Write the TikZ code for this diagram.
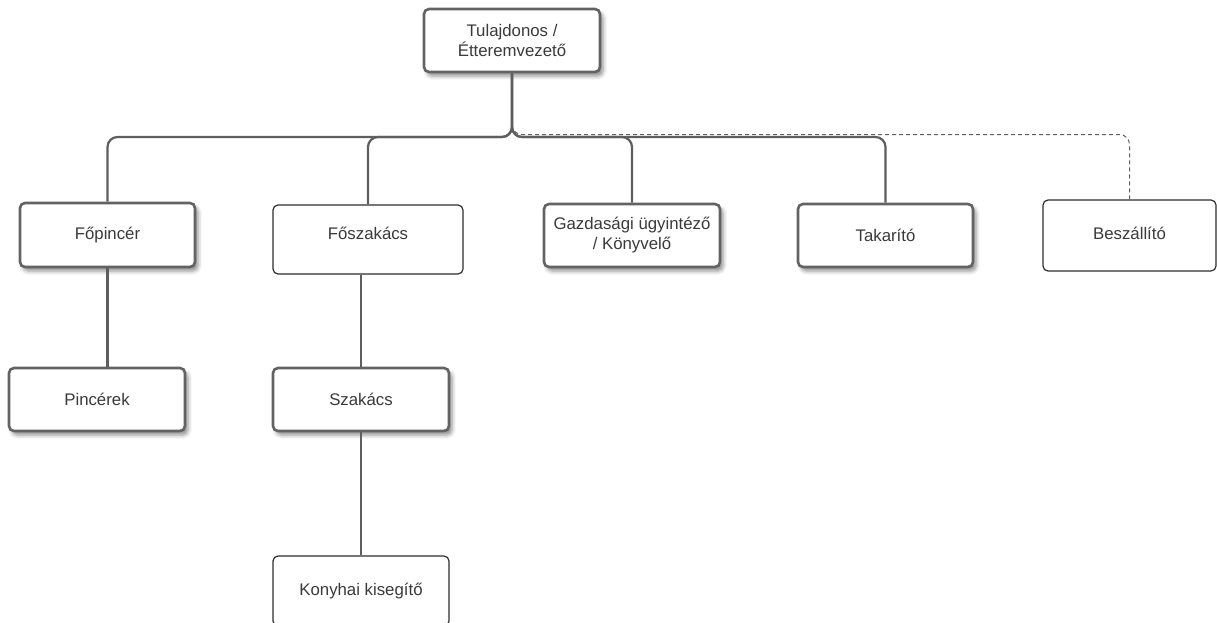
\documentclass[tikz,border=0pt]{standalone}
\usepackage{fontspec}
\setmainfont{Liberation Sans}
\usetikzlibrary{shadows.blur}
\definecolor{linegray}{HTML}{5E5E5E}
\definecolor{boxgray}{HTML}{636363}
\definecolor{thinline}{HTML}{2E2E2E}
\definecolor{txt}{HTML}{3A3A3A}
\begin{document}
\begin{tikzpicture}[x=1pt,y=-1pt,
  base/.style={rectangle, rounded corners=5pt, fill=white, text=txt, align=center,
    font=\fontsize{16.8}{20}\selectfont, inner sep=0pt},
  heavybox/.style={base, draw=boxgray, line width=2.6pt,
    blur shadow={shadow xshift=3pt, shadow yshift=-4pt, shadow blur radius=4pt, shadow opacity=45}},
  lightbox/.style={base, draw=thinline, line width=1.2pt},
  conn/.style={draw=linegray, line width=2.2pt, rounded corners=10pt},
  dconn/.style={draw=linegray, line width=1pt, dash pattern=on 4pt off 3pt, rounded corners=10pt}]
\useasboundingbox (0,0) rectangle (1217,623);
\clip (0,0) rectangle (1217,623);

\node[heavybox, minimum width=176pt, minimum height=63pt] (top) at (512,40.5) {Tulajdonos /\\Étteremvezető};
\node[heavybox, minimum width=175pt, minimum height=64pt] (fopincer) at (107.5,235) {Főpincér};
\node[lightbox, minimum width=190pt, minimum height=69pt] (foszakacs) at (368,239.5) {\raisebox{13pt}{Főszakács}};
\node[heavybox, minimum width=176pt, minimum height=63pt] (gazd) at (632,235.5) {Gazdasági ügyintéző\\/ Könyvelő};
\node[heavybox, minimum width=175pt, minimum height=63pt] (takarito) at (885.5,235.5) {Takarító};
\node[lightbox, minimum width=173pt, minimum height=71pt] (beszallito) at (1129.5,235.5) {\raisebox{5pt}{Beszállító}};
\node[heavybox, minimum width=176pt, minimum height=63pt] (pincerek) at (97,399.5) {Pincérek};
\node[heavybox, minimum width=176pt, minimum height=63pt] (szakacs) at (361,399.5) {Szakács};
\node[lightbox, minimum width=176pt, minimum height=70pt] (konyhai) at (361,591) {Konyhai kisegítő};

\coordinate (j) at (512,137);
\coordinate (jd) at (512,134.5);

\draw[dconn] (beszallito.north) |- (jd) -- (top.south);
\draw[conn] (fopincer.north) |- (j) -- (top.south);
\draw[conn] (foszakacs.north) |- (j) -- (top.south);
\draw[conn] (gazd.north) |- (j) -- (top.south);
\draw[conn] (takarito.north) |- (j) -- (top.south);
\draw[conn] (fopincer.south) -- (fopincer.south |- pincerek.north);
\draw[conn] (szakacs.north |- foszakacs.south) -- (szakacs.north);
\draw[conn] (szakacs.south) -- (konyhai.north);
\end{tikzpicture}
\end{document}
